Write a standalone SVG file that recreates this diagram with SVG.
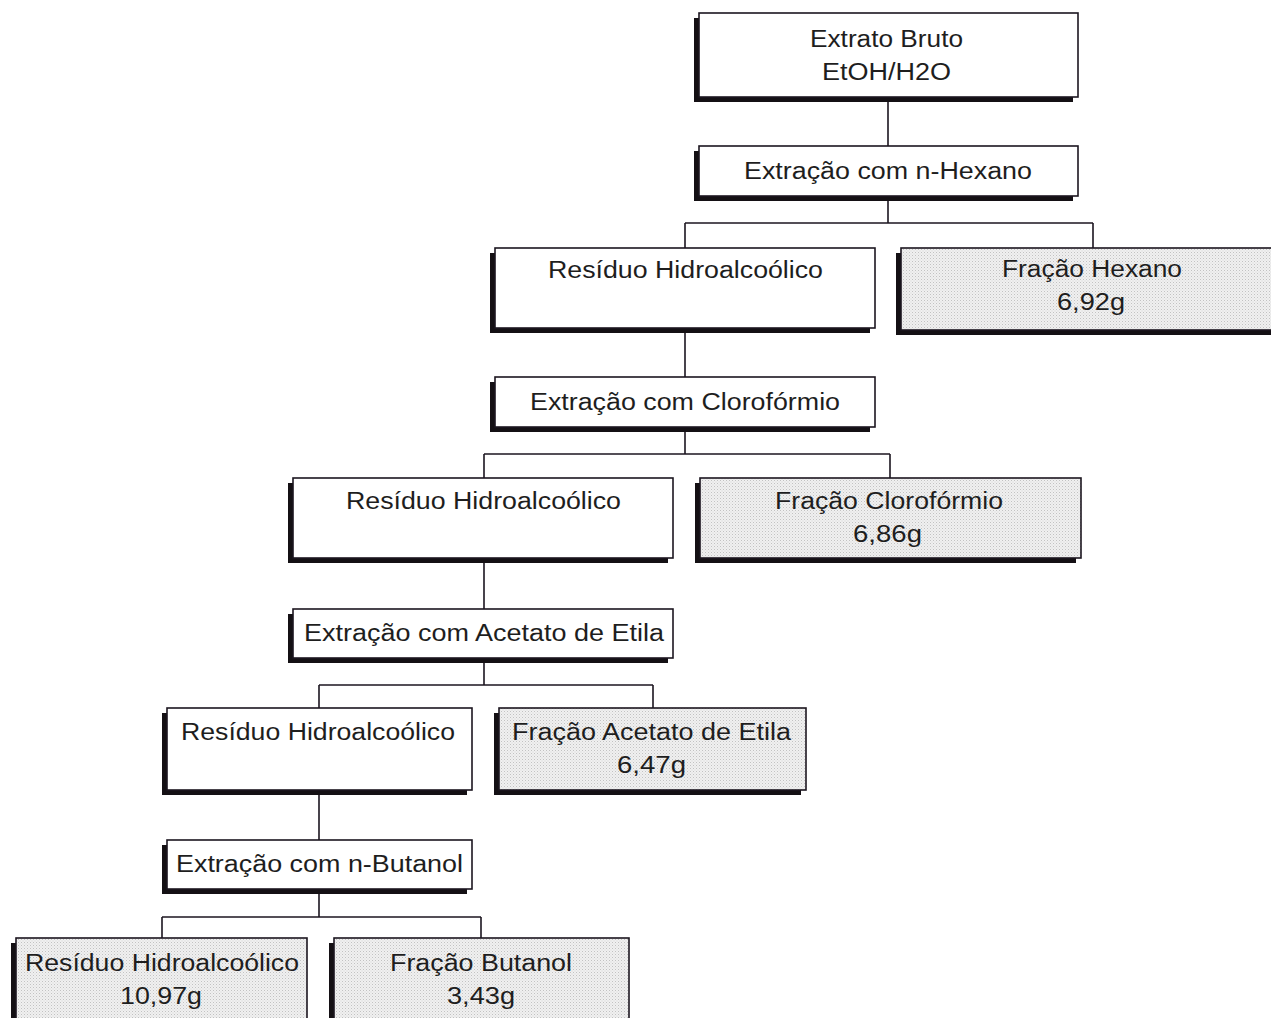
<svg xmlns="http://www.w3.org/2000/svg" width="1271" height="1018" viewBox="0 0 1271 1018">
<defs>
<pattern id="dots" width="3" height="3" patternUnits="userSpaceOnUse">
<rect width="3" height="3" fill="#f0f0f0"/>
<rect width="1" height="1" fill="#c2c2c2"/>
<rect x="1.5" y="1.5" width="1" height="1" fill="#d6d6d6"/>
</pattern>
</defs>
<style>
.sh{fill:#141014}
.bx{fill:#ffffff;stroke:#1c1620;stroke-width:1.6}
.sd{fill:url(#dots);stroke:#1c1620;stroke-width:1.6}
.t{font-family:"Liberation Sans",Arial,sans-serif;font-size:23px;fill:#1e1e1e;text-anchor:middle}
.c{fill:none;stroke:#1c1620;stroke-width:1.6}
</style>
<rect width="1271" height="1018" fill="#ffffff"/>
<g id="connectors">
<path class="c" d="M888 97V146M888 196V223M685 223H1093M685 223V248M1093 223V248"/>
<path class="c" d="M685 328V377M685 427V454M484 454H890M484 454V478M890 454V478"/>
<path class="c" d="M484 558V609M484 658V685M319 685H653M319 685V708M653 685V708"/>
<path class="c" d="M319 790V840M319 889V917M162 917H481M162 917V938M481 917V938"/>
</g>
<g id="n1">
<rect class="sh" x="694" y="18" width="379" height="84"/>
<rect class="bx" x="699" y="13" width="379" height="84"/>
<text class="t" x="886.5" y="47" textLength="153" lengthAdjust="spacingAndGlyphs">Extrato Bruto</text>
<text class="t" x="886.5" y="80" textLength="129" lengthAdjust="spacingAndGlyphs">EtOH/H2O</text>
</g>
<g id="n2">
<rect class="sh" x="694" y="151" width="379" height="50"/>
<rect class="bx" x="699" y="146" width="379" height="50"/>
<text class="t" x="888" y="179" textLength="288" lengthAdjust="spacingAndGlyphs">Extração com n-Hexano</text>
</g>
<g id="n3">
<rect class="sh" x="490" y="253" width="380" height="80"/>
<rect class="bx" x="495" y="248" width="380" height="80"/>
<text class="t" x="685.5" y="278" textLength="275" lengthAdjust="spacingAndGlyphs">Resíduo Hidroalcoólico</text>
</g>
<g id="n4">
<rect class="sh" x="896" y="253" width="380" height="82"/>
<rect class="sd" x="901" y="248" width="380" height="82"/>
<text class="t" x="1092" y="277" textLength="180" lengthAdjust="spacingAndGlyphs">Fração Hexano</text>
<text class="t" x="1091" y="310" textLength="68" lengthAdjust="spacingAndGlyphs">6,92g</text>
</g>
<g id="n5">
<rect class="sh" x="490" y="382" width="380" height="50"/>
<rect class="bx" x="495" y="377" width="380" height="50"/>
<text class="t" x="685" y="410" textLength="310" lengthAdjust="spacingAndGlyphs">Extração com Clorofórmio</text>
</g>
<g id="n6">
<rect class="sh" x="288" y="483" width="380" height="80"/>
<rect class="bx" x="293" y="478" width="380" height="80"/>
<text class="t" x="483.5" y="509" textLength="275" lengthAdjust="spacingAndGlyphs">Resíduo Hidroalcoólico</text>
</g>
<g id="n7">
<rect class="sh" x="695" y="483" width="381" height="80"/>
<rect class="sd" x="700" y="478" width="381" height="80"/>
<text class="t" x="889" y="509" textLength="228" lengthAdjust="spacingAndGlyphs">Fração Clorofórmio</text>
<text class="t" x="887.5" y="542" textLength="69" lengthAdjust="spacingAndGlyphs">6,86g</text>
</g>
<g id="n8">
<rect class="sh" x="288" y="614" width="380" height="49"/>
<rect class="bx" x="293" y="609" width="380" height="49"/>
<text class="t" x="484" y="641" textLength="360" lengthAdjust="spacingAndGlyphs">Extração com Acetato de Etila</text>
</g>
<g id="n9">
<rect class="sh" x="162" y="713" width="305" height="82"/>
<rect class="bx" x="167" y="708" width="305" height="82"/>
<text class="t" x="318" y="740" textLength="274" lengthAdjust="spacingAndGlyphs">Resíduo Hidroalcoólico</text>
</g>
<g id="n10">
<rect class="sh" x="494" y="713" width="307" height="82"/>
<rect class="sd" x="499" y="708" width="307" height="82"/>
<text class="t" x="651.5" y="740" textLength="279" lengthAdjust="spacingAndGlyphs">Fração Acetato de Etila</text>
<text class="t" x="651.5" y="773" textLength="69" lengthAdjust="spacingAndGlyphs">6,47g</text>
</g>
<g id="n11">
<rect class="sh" x="162" y="845" width="305" height="49"/>
<rect class="bx" x="167" y="840" width="305" height="49"/>
<text class="t" x="319.5" y="872" textLength="287" lengthAdjust="spacingAndGlyphs">Extração com n-Butanol</text>
</g>
<g id="n12">
<rect class="sh" x="11" y="943" width="291" height="90"/>
<rect class="sd" x="16" y="938" width="291" height="90"/>
<text class="t" x="162" y="971" textLength="274" lengthAdjust="spacingAndGlyphs">Resíduo Hidroalcoólico</text>
<text class="t" x="161" y="1004" textLength="82" lengthAdjust="spacingAndGlyphs">10,97g</text>
</g>
<g id="n13">
<rect class="sh" x="329" y="943" width="300" height="90"/>
<rect class="sd" x="334" y="938" width="295" height="90"/>
<text class="t" x="481" y="971" textLength="182" lengthAdjust="spacingAndGlyphs">Fração Butanol</text>
<text class="t" x="481" y="1004" textLength="68" lengthAdjust="spacingAndGlyphs">3,43g</text>
</g>
</svg>
